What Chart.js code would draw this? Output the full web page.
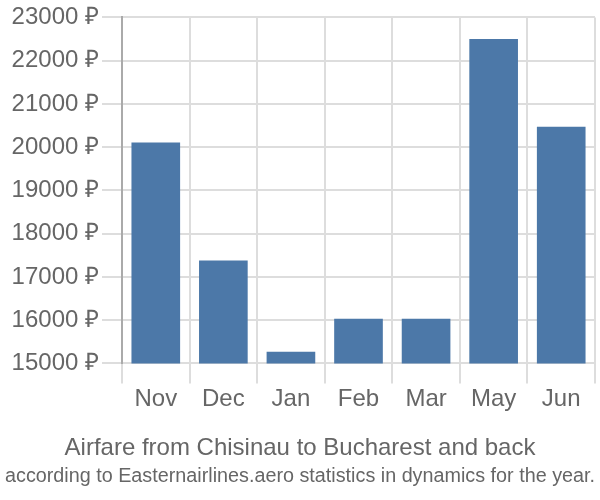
<!DOCTYPE html>
<html>
<head>
<meta charset="utf-8">
<script src="https://cdn.jsdelivr.net/npm/chart.js@4/dist/chart.umd.min.js"></script>
<style>
  body { margin: 0; background: #fff; }
  #wrap { width: 600px; height: 500px; }
</style>
</head>
<body>
<div id="wrap"><canvas id="c" width="600" height="500"></canvas></div>
<script>
// Airfare Chisinau -> Bucharest, monthly prices (RUB)
const months = ["Nov", "Dec", "Jan", "Feb", "Mar", "May", "Jun"];
const prices = [20110, 17380, 15270, 16030, 16030, 22500, 20470];
const yTicks = [15000, 16000, 17000, 18000, 19000, 20000, 21000, 22000, 23000];

const textColor = "#666";
const gridColor = "#dddddd";
const labelFont = "'Liberation Sans', Arial, sans-serif";

new Chart(document.getElementById("c"), {
  type: "bar",
  data: {
    labels: months,
    datasets: [{
      data: prices,
      backgroundColor: "#4c78a8",
      borderWidth: 0,
      categoryPercentage: 1,
      barPercentage: 0.72
    }]
  },
  options: {
    responsive: false,
    animation: false,
    layout: { padding: { top: 0, right: 5, left: 5, bottom: 12 } },
    plugins: {
      legend: { display: false },
      tooltip: { enabled: false },
      title: {
        display: true,
        position: "bottom",
        weight: 1000,
        text: "Airfare from Chisinau to Bucharest and back",
        color: textColor,
        font: { family: labelFont, size: 24, weight: "normal" },
        padding: { top: 18, bottom: 1 }
      },
      subtitle: {
        display: true,
        position: "bottom",
        weight: 2000,
        text: "according to Easternairlines.aero statistics in dynamics for the year.",
        color: textColor,
        font: { family: labelFont, size: 20 },
        padding: 0
      }
    },
    scales: {
      x: {
        grid: { color: gridColor, lineWidth: 2, tickLength: 20, offset: true },
        border: { color: gridColor, width: 2 },
        ticks: {
          color: textColor,
          padding: 2,
          font: { family: labelFont, size: 24 }
        }
      },
      y: {
        min: yTicks[0],
        max: yTicks[yTicks.length - 1],
        afterBuildTicks: axis => { axis.ticks = yTicks.map(v => ({ value: v })); },
        afterFit: axis => { axis.width = 117; },
        grid: { color: gridColor, lineWidth: 2, tickLength: 20 },
        border: { color: "#aaaaaa", width: 2 },
        ticks: {
          color: textColor,
          padding: 3,
          font: { family: labelFont, size: 24 },
          callback: v => v + " ₽"
        }
      }
    }
  }
});
</script>
</body>
</html>
